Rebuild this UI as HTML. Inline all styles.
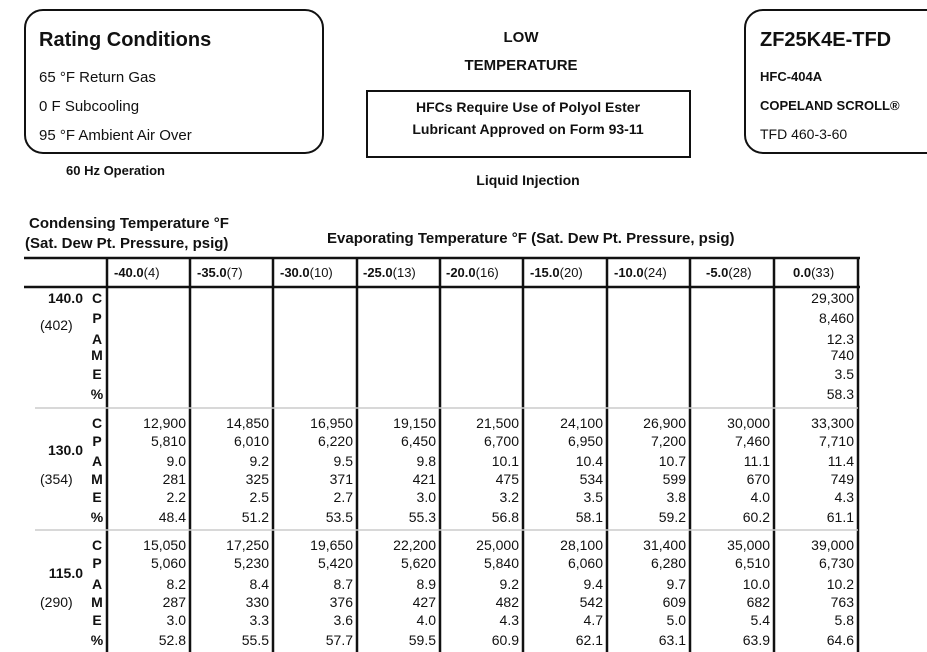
<!DOCTYPE html><html><head><meta charset="utf-8"><style>body{margin:0;background:#fff}svg{display:block}text{font-family:"Liberation Sans",Arial,sans-serif;fill:#111}.b{font-weight:bold}</style></head><body>
<svg width="927" height="652" viewBox="0 0 927 652" xmlns="http://www.w3.org/2000/svg">
<rect x="25" y="10" width="298" height="143" rx="18" fill="none" stroke="#111" stroke-width="2"/>
<rect x="745" y="10" width="200" height="143" rx="18" fill="none" stroke="#111" stroke-width="2"/>
<rect x="367" y="91" width="323" height="66" fill="none" stroke="#111" stroke-width="2"/>
<text x="39" y="46" class="b" font-size="20">Rating Conditions</text>
<text x="39" y="82" font-size="15">65 °F Return Gas</text>
<text x="39" y="111" font-size="15">0 F Subcooling</text>
<text x="39" y="140" font-size="15">95 °F Ambient Air Over</text>
<text x="66" y="175" class="b" font-size="13">60 Hz Operation</text>
<text x="521" y="42" class="b" font-size="15" text-anchor="middle">LOW</text>
<text x="521" y="70" class="b" font-size="15" text-anchor="middle">TEMPERATURE</text>
<text x="528" y="112" class="b" font-size="14" text-anchor="middle">HFCs Require Use of Polyol Ester</text>
<text x="528" y="134" class="b" font-size="14" text-anchor="middle">Lubricant Approved on Form 93-11</text>
<text x="528" y="185" class="b" font-size="14" text-anchor="middle">Liquid Injection</text>
<text x="760" y="46" class="b" font-size="20">ZF25K4E-TFD</text>
<text x="760" y="81" class="b" font-size="13">HFC-404A</text>
<text x="760" y="110" class="b" font-size="13">COPELAND SCROLL®</text>
<text x="760" y="139" font-size="14">TFD 460-3-60</text>
<text x="29" y="228" class="b" font-size="15">Condensing Temperature °F</text>
<text x="25" y="248" class="b" font-size="15">(Sat. Dew Pt. Pressure, psig)</text>
<text x="327" y="243" class="b" font-size="15">Evaporating Temperature  °F (Sat. Dew Pt. Pressure, psig)</text>
<g stroke="#111" stroke-width="2.5">
<line x1="24" y1="258" x2="860" y2="258"/>
<line x1="24" y1="287" x2="860" y2="287"/>
<line x1="107" y1="258" x2="107" y2="652"/><line x1="190" y1="258" x2="190" y2="652"/><line x1="273" y1="258" x2="273" y2="652"/><line x1="357" y1="258" x2="357" y2="652"/><line x1="440" y1="258" x2="440" y2="652"/><line x1="523" y1="258" x2="523" y2="652"/><line x1="607" y1="258" x2="607" y2="652"/><line x1="690" y1="258" x2="690" y2="652"/><line x1="774" y1="258" x2="774" y2="652"/><line x1="858" y1="258" x2="858" y2="652"/>
</g>
<g stroke="#ccc" stroke-width="1.5"><line x1="35" y1="408" x2="858" y2="408"/><line x1="35" y1="530" x2="858" y2="530"/></g>
<g font-size="13">
<text x="114" y="277"><tspan class="b">-40.0</tspan>(4)</text>
<text x="197" y="277"><tspan class="b">-35.0</tspan>(7)</text>
<text x="280" y="277"><tspan class="b">-30.0</tspan>(10)</text>
<text x="363" y="277"><tspan class="b">-25.0</tspan>(13)</text>
<text x="446" y="277"><tspan class="b">-20.0</tspan>(16)</text>
<text x="530" y="277"><tspan class="b">-15.0</tspan>(20)</text>
<text x="614" y="277"><tspan class="b">-10.0</tspan>(24)</text>
<text x="706" y="277"><tspan class="b">-5.0</tspan>(28)</text>
<text x="793" y="277"><tspan class="b">0.0</tspan>(33)</text>
</g>
<g font-size="14">
<text x="83" y="303" class="b" text-anchor="end">140.0</text><text x="40" y="330">(402)</text>
<text x="83" y="455" class="b" text-anchor="end">130.0</text><text x="40" y="484">(354)</text>
<text x="83" y="578" class="b" text-anchor="end">115.0</text><text x="40" y="607">(290)</text>
</g>
<g font-size="14" class="b" text-anchor="middle">
<text x="97" y="303">C</text><text x="97" y="323">P</text><text x="97" y="344">A</text><text x="97" y="360">M</text><text x="97" y="379">E</text><text x="97" y="399">%</text>
<text x="97" y="428">C</text><text x="97" y="446">P</text><text x="97" y="466">A</text><text x="97" y="484">M</text><text x="97" y="502">E</text><text x="97" y="522">%</text>
<text x="97" y="550">C</text><text x="97" y="568">P</text><text x="97" y="589">A</text><text x="97" y="607">M</text><text x="97" y="625">E</text><text x="97" y="645">%</text>
</g>
<g font-size="14" text-anchor="end">
<text x="854" y="303">29,300</text><text x="854" y="323">8,460</text><text x="854" y="344">12.3</text><text x="854" y="360">740</text><text x="854" y="379">3.5</text><text x="854" y="399">58.3</text>
</g>
<g font-size="14" text-anchor="end" id="g2"></g>
<g font-size="14" text-anchor="end">
<text x="186" y="428">12,900</text><text x="186" y="446">5,810</text><text x="186" y="466">9.0</text><text x="186" y="484">281</text><text x="186" y="502">2.2</text><text x="186" y="522">48.4</text>
<text x="269" y="428">14,850</text><text x="269" y="446">6,010</text><text x="269" y="466">9.2</text><text x="269" y="484">325</text><text x="269" y="502">2.5</text><text x="269" y="522">51.2</text>
<text x="353" y="428">16,950</text><text x="353" y="446">6,220</text><text x="353" y="466">9.5</text><text x="353" y="484">371</text><text x="353" y="502">2.7</text><text x="353" y="522">53.5</text>
<text x="436" y="428">19,150</text><text x="436" y="446">6,450</text><text x="436" y="466">9.8</text><text x="436" y="484">421</text><text x="436" y="502">3.0</text><text x="436" y="522">55.3</text>
<text x="519" y="428">21,500</text><text x="519" y="446">6,700</text><text x="519" y="466">10.1</text><text x="519" y="484">475</text><text x="519" y="502">3.2</text><text x="519" y="522">56.8</text>
<text x="603" y="428">24,100</text><text x="603" y="446">6,950</text><text x="603" y="466">10.4</text><text x="603" y="484">534</text><text x="603" y="502">3.5</text><text x="603" y="522">58.1</text>
<text x="686" y="428">26,900</text><text x="686" y="446">7,200</text><text x="686" y="466">10.7</text><text x="686" y="484">599</text><text x="686" y="502">3.8</text><text x="686" y="522">59.2</text>
<text x="770" y="428">30,000</text><text x="770" y="446">7,460</text><text x="770" y="466">11.1</text><text x="770" y="484">670</text><text x="770" y="502">4.0</text><text x="770" y="522">60.2</text>
<text x="854" y="428">33,300</text><text x="854" y="446">7,710</text><text x="854" y="466">11.4</text><text x="854" y="484">749</text><text x="854" y="502">4.3</text><text x="854" y="522">61.1</text>
<text x="186" y="550">15,050</text><text x="186" y="568">5,060</text><text x="186" y="589">8.2</text><text x="186" y="607">287</text><text x="186" y="625">3.0</text><text x="186" y="645">52.8</text>
<text x="269" y="550">17,250</text><text x="269" y="568">5,230</text><text x="269" y="589">8.4</text><text x="269" y="607">330</text><text x="269" y="625">3.3</text><text x="269" y="645">55.5</text>
<text x="353" y="550">19,650</text><text x="353" y="568">5,420</text><text x="353" y="589">8.7</text><text x="353" y="607">376</text><text x="353" y="625">3.6</text><text x="353" y="645">57.7</text>
<text x="436" y="550">22,200</text><text x="436" y="568">5,620</text><text x="436" y="589">8.9</text><text x="436" y="607">427</text><text x="436" y="625">4.0</text><text x="436" y="645">59.5</text>
<text x="519" y="550">25,000</text><text x="519" y="568">5,840</text><text x="519" y="589">9.2</text><text x="519" y="607">482</text><text x="519" y="625">4.3</text><text x="519" y="645">60.9</text>
<text x="603" y="550">28,100</text><text x="603" y="568">6,060</text><text x="603" y="589">9.4</text><text x="603" y="607">542</text><text x="603" y="625">4.7</text><text x="603" y="645">62.1</text>
<text x="686" y="550">31,400</text><text x="686" y="568">6,280</text><text x="686" y="589">9.7</text><text x="686" y="607">609</text><text x="686" y="625">5.0</text><text x="686" y="645">63.1</text>
<text x="770" y="550">35,000</text><text x="770" y="568">6,510</text><text x="770" y="589">10.0</text><text x="770" y="607">682</text><text x="770" y="625">5.4</text><text x="770" y="645">63.9</text>
<text x="854" y="550">39,000</text><text x="854" y="568">6,730</text><text x="854" y="589">10.2</text><text x="854" y="607">763</text><text x="854" y="625">5.8</text><text x="854" y="645">64.6</text>
</g>
</svg>
</body></html>
